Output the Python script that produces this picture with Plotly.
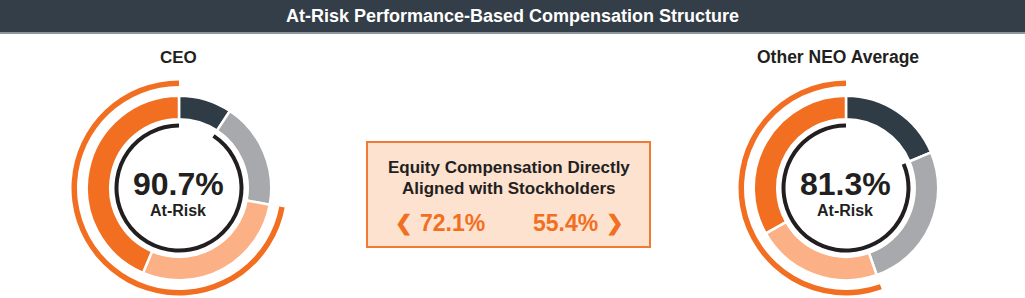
import plotly.graph_objects as go

W, H = 1025, 298

# ---------------- data ----------------
title_text = "At-Risk Performance-Based Compensation Structure"
panel_names = ["CEO", "Other NEO Average"]
components = ["Base Salary", "Annual Incentive", "Performance Equity", "Time-Based Equity"]
ceo_mix = [9.3, 18.6, 28.5, 43.6]
neo_mix = [18.7, 25.9, 22.2, 33.2]
at_risk = [90.7, 81.3]
equity = [72.1, 55.4]
box_lines = ["Equity Compensation Directly", "Aligned with Stockholders"]
center_label = "At-Risk"

# ---------------- style ----------------
seg_colors = ["#2f3b45", "#a7a9ac", "#fbb185", "#f26f21"]
ring_color = "#231f20"
arc_color = "#f26f21"
text_dark = "#231f20"
bar_dark = "#333e48"
font_fam = "Liberation Sans, Arial, sans-serif"

centers = [(179, 188), (846, 188)]
R_AX = 110


def px(x):
    return x / W


def py(y):
    return 1 - y / H


fig = go.Figure()

for i, mix in enumerate([ceo_mix, neo_mix]):
    sub = "polar" if i == 0 else "polar2"
    starts = []
    s = 0
    for v in mix:
        starts.append(s)
        s += v
    fig.add_trace(go.Barpolar(
        theta=[(st + v / 2) * 3.6 for st, v in zip(starts, mix)],
        width=[v * 3.6 for v in mix],
        r=[23.5] * len(mix),
        base=[68.75] * len(mix),
        marker=dict(color=seg_colors, line=dict(color="white", width=2.5)),
        text=components, hovertemplate="%{text}<extra></extra>",
        subplot=sub, showlegend=False,
    ))
    a0 = (100 - at_risk[i]) * 3.6
    fig.add_trace(go.Barpolar(
        theta=[(a0 + 360) / 2], width=[360 - a0], r=[4], base=[60.5],
        marker=dict(color=ring_color, line=dict(width=0)),
        hovertemplate="At-Risk %{customdata}%<extra></extra>", customdata=[at_risk[i]],
        subplot=sub, showlegend=False,
    ))
    e0 = (100 - equity[i]) * 3.6
    fig.add_trace(go.Barpolar(
        theta=[(e0 + 360) / 2], width=[360 - e0], r=[5.5], base=[102],
        marker=dict(color=arc_color, line=dict(width=0)),
        hovertemplate="Equity %{customdata}%<extra></extra>", customdata=[equity[i]],
        subplot=sub, showlegend=False,
    ))

polar_common = dict(
    radialaxis=dict(range=[0, R_AX], visible=False),
    angularaxis=dict(rotation=90, direction="clockwise", visible=False),
    bgcolor="rgba(0,0,0,0)",
)
layout_polars = {}
for i, (cx, cy) in enumerate(centers):
    key = "polar" if i == 0 else "polar2"
    layout_polars[key] = dict(
        domain=dict(x=[px(cx - R_AX), px(cx + R_AX)], y=[py(cy + R_AX), py(cy - R_AX)]),
        **polar_common,
    )

shapes = [
    dict(type="rect", xref="paper", yref="paper", x0=0, x1=1, y0=py(32), y1=1,
         fillcolor=bar_dark, line=dict(width=0), layer="below"),
    dict(type="rect", xref="paper", yref="paper", x0=0, x1=1, y0=py(34), y1=py(32),
         fillcolor="#8d969c", line=dict(width=0), layer="below"),
    dict(type="rect", xref="paper", yref="paper", x0=px(367), x1=px(650), y0=py(247), y1=py(142),
         fillcolor="#fde2d0", line=dict(color="#f37a35", width=2), layer="below"),
]

ann = []


def add_text(x, y, t, size, color=text_dark, bold=True):
    ann.append(dict(x=px(x), y=py(y), xref="paper", yref="paper", text=("<b>%s</b>" % t) if bold else t,
                    showarrow=False, xanchor="center", yanchor="middle",
                    font=dict(family=font_fam, size=size, color=color)))


add_text(512, 16, title_text, 18, color="white", bold=True)
add_text(178, 57, panel_names[0], 17)
add_text(838, 57, panel_names[1], 17.5)
for i, (cx, cy) in enumerate(centers):
    add_text(cx - 1, 184, "%.1f%%" % at_risk[i], 32)
    add_text(cx - 1, 210, center_label, 16)
add_text(508.5, 167, box_lines[0], 17)
add_text(508.5, 188, box_lines[1], 17)
add_text(452.5, 223, "%.1f%%" % equity[0], 23, color=arc_color)
add_text(565.5, 223, "%.1f%%" % equity[1], 23, color=arc_color)
add_text(403.5, 223, "\u276e", 21, color=arc_color)
add_text(614.5, 223, "\u276f", 21, color=arc_color)

fig.update_layout(
    width=W, height=H, margin=dict(l=0, r=0, t=0, b=0),
    paper_bgcolor="white", plot_bgcolor="white",
    shapes=shapes, annotations=ann, showlegend=False,
    **layout_polars,
)

fig.write_html("out.html", config={"displayModeBar": False})
